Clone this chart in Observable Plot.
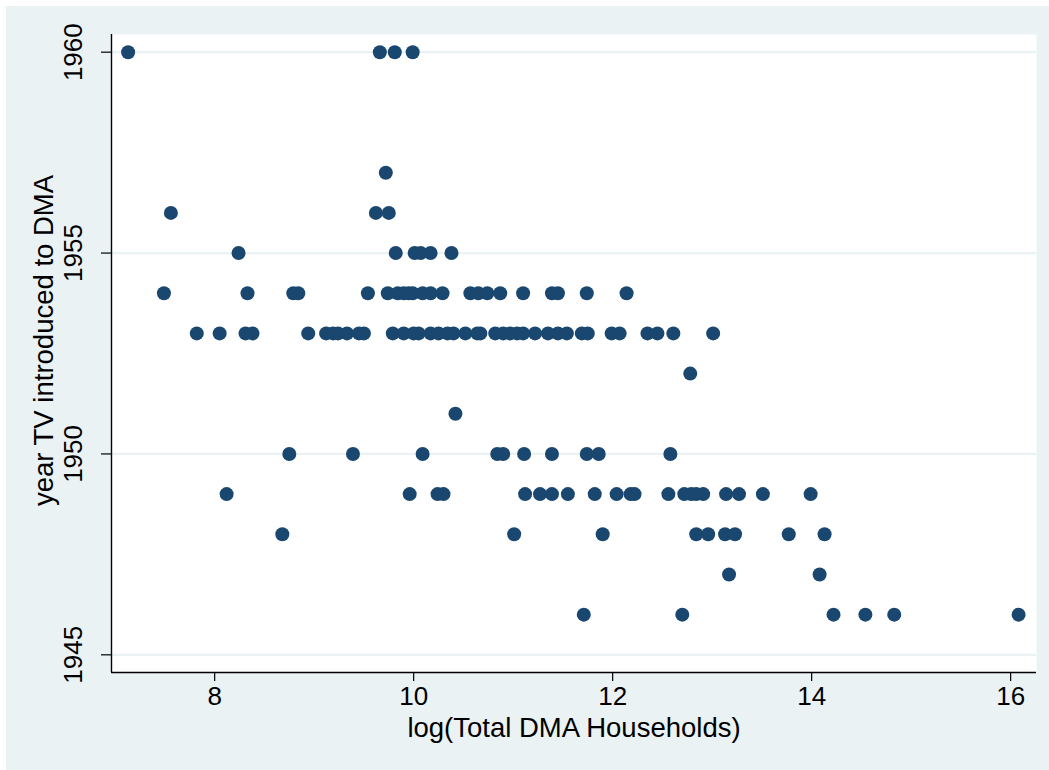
<!DOCTYPE html>
<html>
<head>
<meta charset="utf-8">
<script src="https://cdn.jsdelivr.net/npm/d3@7"></script>
<script src="https://cdn.jsdelivr.net/npm/@observablehq/plot@0.6"></script>
<style>
  html, body { margin: 0; padding: 0; background: #ffffff; }
  #chart svg { display: block; background: #eaf2f3; box-shadow: inset 6px 6px 0 #ffffff; }
</style>
</head>
<body>
<div id="chart"></div>
<script>
// log(Total DMA Households) values, grouped by year TV introduced to DMA
const year1960 = [7.13, 9.66, 9.81, 9.99];
const year1957 = [9.72];
const year1956 = [7.56, 9.62, 9.75];
const year1955 = [8.24, 9.82, 10.01, 10.07, 10.17, 10.38];
const year1954 = [7.49, 8.33, 8.79, 8.84, 9.54, 9.74, 9.84, 9.90, 9.95, 9.99, 10.09, 10.17, 10.29, 10.57, 10.65, 10.74, 10.87, 11.10, 11.39, 11.45, 11.74, 12.14];
const year1953 = [7.82, 8.05, 8.31, 8.38, 8.94, 9.12, 9.19, 9.24, 9.33, 9.45, 9.50, 9.79, 9.90, 10.00, 10.05, 10.17, 10.25, 10.34, 10.40, 10.52, 10.64, 10.67, 10.82, 10.90, 10.97, 11.04, 11.10, 11.22, 11.35, 11.45, 11.54, 11.69, 11.75, 11.99, 12.07, 12.35, 12.45, 12.61, 13.01];
const year1952 = [12.78];
const year1951 = [10.42];
const year1950 = [8.75, 9.39, 10.09, 10.84, 10.90, 11.11, 11.39, 11.74, 11.86, 12.58];
const year1949 = [8.12, 9.96, 10.24, 10.30, 11.12, 11.27, 11.39, 11.55, 11.82, 12.04, 12.18, 12.22, 12.56, 12.72, 12.79, 12.84, 12.91, 13.14, 13.27, 13.51, 13.99];
const year1948 = [8.68, 11.01, 11.90, 12.84, 12.96, 13.13, 13.23, 13.77, 14.13];
const year1947 = [13.17, 14.08];
const year1946 = [11.71, 12.70, 14.22, 14.54, 14.83, 16.08];

const xTicks = [8, 10, 12, 14, 16];
const yTicks = [1945, 1950, 1955, 1960];
const xTitle = "log(Total DMA Households)";
const yTitle = "year TV introduced to DMA";

const groups = [
  [1960, year1960], [1957, year1957], [1956, year1956], [1955, year1955],
  [1954, year1954], [1953, year1953], [1952, year1952], [1951, year1951],
  [1950, year1950], [1949, year1949], [1948, year1948], [1947, year1947],
  [1946, year1946]
];
const data = groups.flatMap(([yr, xs]) => xs.map(v => ({x: v, year: yr})));

const xDomain = [6.963, 16.26];
const yDomain = [1944.56, 1960.44];
const font = "'Liberation Sans', Arial, Helvetica, sans-serif";
const fs = 26;
const tfs = 27.5;

const chart = Plot.plot({
  width: 1049,
  height: 770,
  marginLeft: 111,
  marginRight: 13,
  marginTop: 34,
  marginBottom: 98,
  style: {fontFamily: font, fontSize: fs + "px", color: "#000", background: "#eaf2f3"},
  x: {domain: xDomain},
  y: {domain: yDomain},
  marks: [
    Plot.frame({fill: "#ffffff", stroke: null}),
    Plot.gridY(yTicks, {stroke: "#eaf2f3", strokeOpacity: 1, strokeWidth: 2.2}),
    Plot.axisX(xTicks, {tickSize: 9, tickPadding: 5, fontSize: fs, label: null, stroke: "#000", strokeWidth: 1.2}),
    Plot.axisY(yTicks, {tickSize: 10, fontSize: fs, label: null, tickFormat: () => "", stroke: "#000", strokeWidth: 1.2}),
    Plot.text(yTicks, {x: xDomain[0], y: d => d, text: d => String(d), rotate: -90, dx: -37.5, fontSize: fs, textAnchor: "middle", lineAnchor: "middle", fill: "#000"}),
    Plot.ruleX([xDomain[0]], {stroke: "#000", strokeWidth: 1.4}),
    Plot.ruleY([yDomain[0]], {stroke: "#000", strokeWidth: 1.4}),
    Plot.text([xTitle], {frameAnchor: "bottom", dy: 56, text: d => d, fontSize: tfs, textAnchor: "middle", lineAnchor: "middle", fill: "#000"}),
    Plot.text([yTitle], {frameAnchor: "left", dx: -67, dy: -13, rotate: -90, text: d => d, fontSize: tfs, textAnchor: "middle", lineAnchor: "middle", fill: "#000"}),
    Plot.dot(data, {x: "x", y: "year", r: 7, fill: "#1a476f", stroke: null})
  ]
});
document.getElementById("chart").appendChild(chart);
</script>
</body>
</html>
